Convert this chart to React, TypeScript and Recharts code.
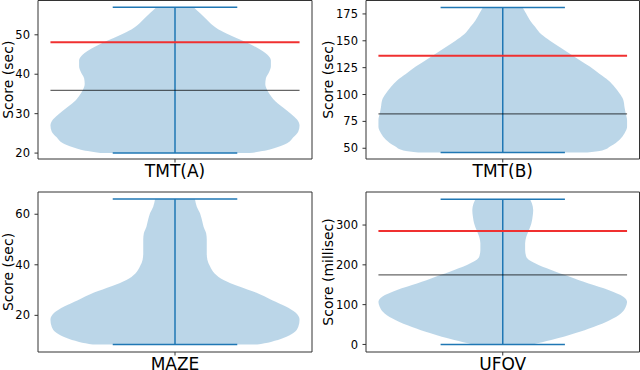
import React from 'react';
import { ComposedChart, Area, XAxis, YAxis, ReferenceLine, ReferenceArea } from 'recharts';

// four violin panels
const categories = ['TMT(A)', 'TMT(B)', 'MAZE', 'UFOV'];
const yLabels = ['Score (sec)', 'Score (sec)', 'Score (sec)', 'Score (millisec)'];

const mins = [20, 46, 8.5, 0];
const maxs = [57, 181, 66, 365];
const redLevels: (number | null)[] = [48.1, 136, null, 285];
const grayLevels: (number | null)[] = [35.9, 82, null, 175];

// violin outline: score and half width (1 = widest point)
const tmtAScores = [20, 20.5, 21.5, 22.5, 24, 25.5, 27, 28.5, 30, 31.5, 33, 34.5, 36, 37.5, 39, 40.5, 42, 43.5, 45, 46.5, 48, 49.5, 51, 52.5, 54, 55.5, 57];
const tmtAWidths = [0.6, 0.7, 0.82, 0.9, 0.95, 0.99, 1.0, 0.98, 0.93, 0.87, 0.81, 0.77, 0.74, 0.725, 0.73, 0.755, 0.77, 0.77, 0.74, 0.67, 0.58, 0.47, 0.37, 0.3, 0.25, 0.2, 0.15];

const tmtBScores = [46, 48, 52, 58, 64, 70, 76, 82, 88, 95, 101, 107, 113, 119, 126, 132, 138, 144, 150, 156, 163, 169, 175, 181];
const tmtBWidths = [0.68, 0.8, 0.87, 0.94, 0.98, 1.0, 1.0, 0.99, 0.98, 0.97, 0.94, 0.9, 0.85, 0.78, 0.7, 0.62, 0.54, 0.46, 0.38, 0.31, 0.26, 0.22, 0.19, 0.16];

const mazeScores = [8.5, 9.5, 11, 13, 15.5, 18.3, 21, 23.5, 26, 29, 31.5, 34, 36.5, 39.5, 42, 44.5, 47, 50, 52.5, 55, 58, 60.5, 63, 66];
const mazeWidths = [0.66, 0.77, 0.87, 0.95, 0.99, 1.0, 0.97, 0.89, 0.78, 0.65, 0.51, 0.39, 0.32, 0.28, 0.26, 0.255, 0.255, 0.255, 0.25, 0.23, 0.215, 0.2, 0.175, 0.16];

const ufovScores = [0, 11, 28, 44, 61, 78, 95, 107, 120, 137, 153, 170, 187, 204, 220, 237, 254, 271, 287, 304, 321, 338, 354, 365];
const ufovWidths = [0.24, 0.39, 0.58, 0.73, 0.86, 0.95, 0.99, 1.0, 0.97, 0.85, 0.69, 0.54, 0.39, 0.26, 0.19, 0.18, 0.18, 0.19, 0.21, 0.23, 0.24, 0.245, 0.235, 0.22];

const scoreLists = [tmtAScores, tmtBScores, mazeScores, ufovScores];
const widthLists = [tmtAWidths, tmtBWidths, mazeWidths, ufovWidths];

const yTicks = [[20, 30, 40, 50], [50, 75, 100, 125, 150, 175], [20, 40, 60], [0, 100, 200, 300]];
const yDomains: [number, number][] = [[18.5, 58.7], [40, 187.5], [5.5, 68.8], [-19, 383]];
const xDomain: [number, number] = [0.725, 1.275];

const BLUE = '#1f77b4';
const HALF = 0.25;

const layouts = [
  { left: 0, top: 0, width: 313, axisWidth: 38, marginTop: 0.5, marginRight: 1, xAxisHeight: 26 },
  { left: 320, top: 0, width: 320, axisWidth: 46, marginTop: 0.5, marginRight: 0.5, xAxisHeight: 26 },
  { left: 0, top: 185, width: 313, axisWidth: 38, marginTop: 7, marginRight: 1, xAxisHeight: 18 },
  { left: 320, top: 185, width: 320, axisWidth: 46, marginTop: 7, marginRight: 0.5, xAxisHeight: 18 },
];

const yLabel = (text: string) => (props: any) => {
  const vb = props.viewBox || { x: 0, y: 0, width: 0, height: 0 };
  const x = vb.x + 13;
  const y = vb.y + vb.height / 2;
  return (
    <text x={x} y={y} transform={`rotate(-90, ${x}, ${y})`} textAnchor="middle" fontSize={14} fill="#000">
      {text}
    </text>
  );
};

function Panel({ i }: { i: number }) {
  const lay = layouts[i];
  const data = scoreLists[i].map((s, k) => ({
    score: s,
    span: [1 - widthLists[i][k] * HALF, 1 + widthLists[i][k] * HALF],
  }));
  const red = redLevels[i];
  const gray = grayLevels[i];
  return (
    <div style={{ position: 'absolute', left: lay.left, top: lay.top }}>
      <ComposedChart
        width={lay.width}
        height={185}
        data={data}
        layout="vertical"
        margin={{ top: lay.marginTop, right: lay.marginRight, left: 0, bottom: 0 }}
      >
        <XAxis
          type="number"
          domain={xDomain}
          allowDataOverflow
          ticks={[1]}
          tickFormatter={() => categories[i]}
          tick={{ fontSize: 17, fill: '#000' }}
          tickSize={3.5}
          tickMargin={2}
          tickLine={{ stroke: '#333' }}
          axisLine={false}
          height={lay.xAxisHeight}
          interval={0}
        />
        <YAxis
          type="number"
          dataKey="score"
          domain={yDomains[i]}
          allowDataOverflow
          reversed
          ticks={yTicks[i]}
          tick={{ fontSize: 11.5, fill: '#000' }}
          tickSize={3.5}
          tickMargin={4.5}
          tickLine={{ stroke: '#333' }}
          axisLine={false}
          width={lay.axisWidth}
          interval={0}
          label={yLabel(yLabels[i])}
        />
        <Area
          dataKey="span"
          type="monotone"
          fill={BLUE}
          fillOpacity={0.3}
          stroke="none"
          isAnimationActive={false}
        />
        <ReferenceLine segment={[{ x: 1, y: mins[i] }, { x: 1, y: maxs[i] }]} stroke={BLUE} strokeWidth={1.5} />
        <ReferenceLine segment={[{ x: 1 - HALF / 2, y: mins[i] }, { x: 1 + HALF / 2, y: mins[i] }]} stroke={BLUE} strokeWidth={1.5} />
        <ReferenceLine segment={[{ x: 1 - HALF / 2, y: maxs[i] }, { x: 1 + HALF / 2, y: maxs[i] }]} stroke={BLUE} strokeWidth={1.5} />
        {gray !== null && (
          <ReferenceLine segment={[{ x: 1 - HALF, y: gray }, { x: 1 + HALF, y: gray }]} stroke="#000" strokeOpacity={0.6} strokeWidth={1.2} />
        )}
        {red !== null && (
          <ReferenceLine segment={[{ x: 1 - HALF, y: red }, { x: 1 + HALF, y: red }]} stroke="#f03030" strokeWidth={2} />
        )}
        <ReferenceArea
          x1={xDomain[0]}
          x2={xDomain[1]}
          y1={yDomains[i][0]}
          y2={yDomains[i][1]}
          fill="none"
          stroke="#333"
          strokeWidth={1}
          ifOverflow="visible"
        />
      </ComposedChart>
    </div>
  );
}

export default function App() {
  return (
    <div
      style={{
        position: 'absolute',
        left: 0,
        top: 0,
        width: 640,
        height: 370,
        overflow: 'hidden',
        background: '#fff',
        fontFamily: '"DejaVu Sans", sans-serif',
      }}
    >
      {categories.map((_, i) => (
        <Panel key={i} i={i} />
      ))}
    </div>
  );
}
